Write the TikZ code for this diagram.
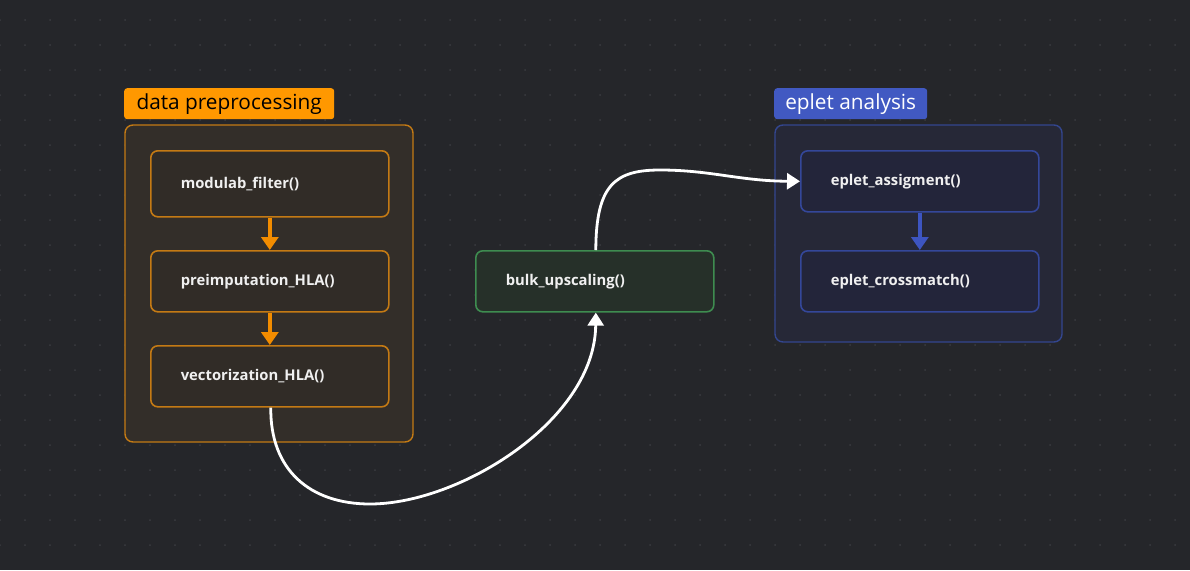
\documentclass[tikz,border=0pt]{standalone}
\usepackage{fontspec}
\setmainfont{Open Sans}
\usetikzlibrary{arrows.meta}
\definecolor{bgc}{HTML}{25262A}
\definecolor{dotc}{HTML}{3A3B40}
\definecolor{orlab}{HTML}{FF9800}
\definecolor{orframe}{HTML}{C47A14}
\definecolor{orfill}{HTML}{332E29}
\definecolor{ornode}{HTML}{312C27}
\definecolor{orarrow}{HTML}{F28C00}
\definecolor{grborder}{HTML}{3E8C50}
\definecolor{grfill}{HTML}{263029}
\definecolor{bllab}{HTML}{4159C2}
\definecolor{blframe}{HTML}{33468F}
\definecolor{blfill}{HTML}{262837}
\definecolor{blnode}{HTML}{23253A}
\definecolor{blborder}{HTML}{34479A}
\definecolor{blarrow}{HTML}{3D55C0}
\definecolor{txtc}{HTML}{F0F0F0}
\tikzset{
  fnode/.style={draw, line width=1.6pt, rounded corners=7pt, anchor=north west,
    minimum width=238pt, minimum height=61pt, inner xsep=30pt, text width=178pt,
    align=left, text=txtc, font=\fontsize{14.8}{17}\selectfont\bfseries},
  ornd/.style={fnode, draw=orframe, fill=ornode},
  blnd/.style={fnode, draw=blborder, fill=blnode},
  grnd/.style={fnode, draw=grborder, fill=grfill},
  frame/.style={line width=1.4pt, rounded corners=8pt},
  glabel/.style={anchor=north west, rounded corners=3pt, minimum height=31pt,
    inner xsep=0pt, font=\fontsize{20.8}{24}\selectfont},
  orarr/.style={draw=orarrow, line width=3.5pt, -{Triangle[width=17pt,length=13pt]}},
  blarr/.style={draw=blarrow, line width=3.5pt, -{Triangle[width=17pt,length=13pt]}},
  warr/.style={draw=white, line width=2.8pt, -{Triangle[width=16pt,length=13pt]}},
}
\begin{document}
\begin{tikzpicture}[x=1pt,y=-1pt]
\fill[bgc] (0,0) rectangle (1190,570);
\useasboundingbox (0,0) rectangle (1190,570);
\foreach \i in {0,...,47}{\foreach \j in {0,...,21}{\fill[dotc] (25*\i,20+25*\j) circle (1);}}
% group frames
\draw[frame, draw=orframe, fill=orfill] (125,125) rectangle (413,442);
\draw[frame, draw=blframe, fill=blfill] (775,125) rectangle (1062,342);
\node[glabel, fill=orlab, text=black, minimum width=210pt] (lab1) at (124,88) {data preprocessing};
\node[glabel, fill=bllab, text=white, minimum width=153pt] (lab2) at (774,88) {eplet analysis};
% nodes
\node[ornd, minimum height=66pt] (mf) at (150,150) {modulab\_filter()};
\node[ornd] (pi) at (150,250) {preimputation\_HLA()};
\node[ornd] (vh) at (150,345) {vectorization\_HLA()};
\node[grnd] (bu) at (475,250) {bulk\_upscaling()};
\node[blnd] (ea) at (800,150) {eplet\_assigment()};
\node[blnd] (ec) at (800,250) {eplet\_crossmatch()};
% arrows
\draw[orarr] (mf.south) -- (pi.north);
\draw[orarr] (pi.south) -- (vh.north);
\draw[blarr] (ea.south) -- (ec.north);
\draw[warr] ([xshift=1pt]vh.south) .. controls (270,470) and (310,504) .. (370,504)
  .. controls (460,504) and (595,420) .. ([xshift=1pt]bu.south);
\draw[warr] ([xshift=1pt]bu.north) .. controls (596,185) and (615,170) .. (660,170)
  .. controls (710,170) and (740,181) .. (ea.west);
\end{tikzpicture}
\end{document}
